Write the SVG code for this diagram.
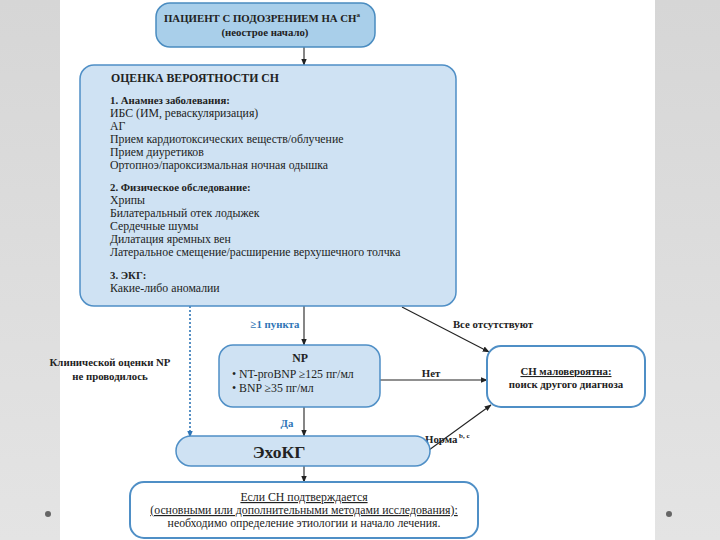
<svg xmlns="http://www.w3.org/2000/svg" width="720" height="540" viewBox="0 0 720 540">
<defs>
<linearGradient id="bgL" x1="0" y1="0" x2="0" y2="1"><stop offset="0" stop-color="#d6d6d6"/><stop offset="1" stop-color="#e4e4e4"/></linearGradient>
<marker id="ah" viewBox="0 0 10 10" refX="9" refY="5" markerWidth="7" markerHeight="7" orient="auto-start-reverse" markerUnits="userSpaceOnUse"><path d="M0,1 L10,5 L0,9 z" fill="#222"/></marker>
<marker id="ahb" viewBox="0 0 10 10" refX="9" refY="5" markerWidth="7" markerHeight="7" orient="auto" markerUnits="userSpaceOnUse"><path d="M0,1 L10,5 L0,9 z" fill="#2e75b6"/></marker>
</defs>
<style>
text{font-family:"Liberation Serif","DejaVu Serif",serif;fill:#222;}
.b{font-weight:bold;}
.t{font-size:11.8px;}
.s{font-size:10.8px;}
.c{text-anchor:middle;}
.blue{fill:#2e75b6;font-weight:bold;font-size:10.8px;}
.box{fill:#cfe2f3;stroke:#4f8fc6;stroke-width:1.5;}
.wbox{fill:#ffffff;stroke:#4f8fc6;stroke-width:2;}
.ln{stroke:#222;stroke-width:1.1;fill:none;}
</style>
<rect x="0" y="0" width="720" height="540" fill="url(#bgL)"/>
<rect x="60" y="0" width="595" height="540" fill="#ffffff"/>
<circle cx="48" cy="514" r="3" fill="#666"/>
<circle cx="669" cy="514" r="3" fill="#666"/>

<g id="connectors">
<line class="ln" x1="304" y1="47" x2="304" y2="65" marker-end="url(#ah)"/>
<line class="ln" x1="304" y1="306" x2="304" y2="345" marker-end="url(#ah)"/>
<line x1="190" y1="306" x2="190" y2="437" stroke="#2e75b6" stroke-width="1.6" stroke-dasharray="2,2" marker-end="url(#ahb)"/>
<line class="ln" x1="402" y1="307" x2="489" y2="352" marker-end="url(#ah)"/>
<line class="ln" x1="380" y1="380" x2="487" y2="380" marker-end="url(#ah)"/>
<line class="ln" x1="304" y1="407" x2="304" y2="436" marker-end="url(#ah)"/>
<line class="ln" x1="429" y1="450" x2="491" y2="405" marker-end="url(#ah)"/>
<line class="ln" x1="304" y1="466" x2="304" y2="482" marker-end="url(#ah)"/>
<text class="blue c" x="275" y="328">≥1 пункта</text>
<text class="s b c" x="110" y="366">Клинической оценки NP</text>
<text class="s b c" x="110" y="380">не проводилось</text>
<text class="s b c" x="493" y="328">Все отсутствуют</text>
<text class="s b c" x="431" y="377">Нет</text>
<text class="blue c" x="287" y="427">Да</text>
<text class="s b" x="425" y="443">Норма<tspan font-size="7" dy="-5"> b, c</tspan></text>
</g>

<g id="patient">
<rect x="156" y="3" width="219" height="44" rx="14" fill="#a9cfea" stroke="#4a8cc0" stroke-width="1.5"/>
<text class="s b c" x="262" y="22">ПАЦИЕНТ С ПОДОЗРЕНИЕМ НА СН<tspan font-size="7" dy="-5">a</tspan></text>
<text class="s b c" x="265" y="36">(неострое начало)</text>
</g>

<g id="assessment">
<rect class="box" x="80" y="65" width="376" height="241" rx="14"/>
<text class="t b" x="111" y="82">ОЦЕНКА ВЕРОЯТНОСТИ СН</text>
<text class="s b" x="110" y="104">1. Анамнез заболевания:</text>
<text class="t" x="110" y="117">ИБС (ИМ, реваскуляризация)</text>
<text class="t" x="110" y="130">АГ</text>
<text class="t" x="110" y="143">Прием кардиотоксических веществ/облучение</text>
<text class="t" x="110" y="156">Прием диуретиков</text>
<text class="t" x="110" y="169">Ортопноэ/пароксизмальная ночная одышка</text>
<text class="s b" x="110" y="191">2. Физическое обследование:</text>
<text class="t" x="110" y="204">Хрипы</text>
<text class="t" x="110" y="217">Билатеральный отек лодыжек</text>
<text class="t" x="110" y="230">Сердечные шумы</text>
<text class="t" x="110" y="243">Дилатация яремных вен</text>
<text class="t" x="110" y="256">Латеральное смещение/расширение верхушечного толчка</text>
<text class="s b" x="110" y="279">3. ЭКГ:</text>
<text class="t" x="110" y="292">Какие-либо аномалии</text>
</g>

<g id="np">
<rect class="box" x="219" y="345" width="161" height="62" rx="14"/>
<text class="t b c" x="300" y="362">NP</text>
<text class="t" x="232" y="378">•  NT-proBNP ≥125 пг/мл</text>
<text class="t" x="232" y="392">•  BNP ≥35 пг/мл</text>
</g>

<g id="unlikely">
<rect class="wbox" x="487" y="346" width="158" height="61" rx="14"/>
<text class="s b c" x="566" y="375" text-decoration="underline">СН маловероятна:</text>
<text class="s b c" x="566" y="388">поиск другого диагноза</text>
</g>

<g id="echo">
<rect class="box" x="176" y="436" width="254" height="30" rx="15"/>
<text class="b c" x="279" y="458" font-size="17.5">ЭхоКГ</text>
</g>

<g id="confirm">
<rect class="wbox" x="130" y="482" width="348" height="56" rx="14"/>
<text class="t c" x="304" y="501" text-decoration="underline">Если СН подтверждается</text>
<text class="t c" x="304" y="514" text-decoration="underline">(основными или дополнительными методами исследования):</text>
<text class="t c" x="304" y="527">необходимо определение этиологии и начало лечения.</text>
</g>
</svg>
